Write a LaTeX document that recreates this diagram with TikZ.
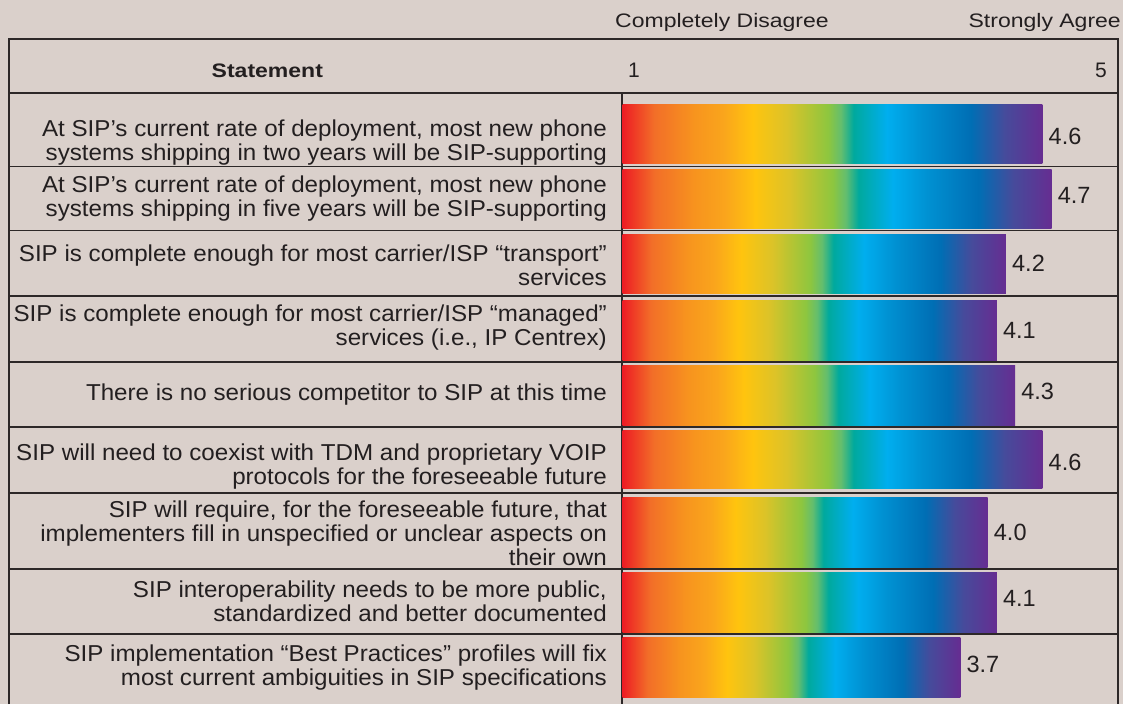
\documentclass[tikz,border=0pt]{standalone}
\usepackage{fontspec}
\setmainfont{Liberation Sans}
\newfontfamily\stmtfont[FakeStretch=1.05]{Liberation Sans}
\newfontfamily\headfont[FakeStretch=1.18]{Liberation Sans}
\usetikzlibrary{calc}

\definecolor{paper}{RGB}{218,208,203}
\definecolor{ink}{RGB}{35,31,32}
\definecolor{rulec}{RGB}{45,40,40}

% rainbow fill of the score bars (25bp..75bp is stretched over each bar)
\pgfdeclarehorizontalshading{rainbow}{100bp}{%
  rgb(0bp)=(0.929,0.110,0.141);
  rgb(25bp)=(0.929,0.110,0.141);
  rgb(28.75bp)=(0.949,0.431,0.157);
  rgb(33.5bp)=(0.969,0.580,0.118);
  rgb(37bp)=(0.980,0.647,0.110);
  rgb(40.5bp)=(1,0.769,0.055);
  rgb(44.5bp)=(0.863,0.765,0.157);
  rgb(49.5bp)=(0.553,0.776,0.247);
  rgb(51bp)=(0.392,0.745,0.431);
  rgb(52.5bp)=(0,0.663,0.616);
  rgb(56.5bp)=(0,0.682,0.937);
  rgb(60.5bp)=(0,0.569,0.824);
  rgb(66.5bp)=(0,0.431,0.706);
  rgb(70.5bp)=(0.275,0.294,0.608);
  rgb(75bp)=(0.4,0.176,0.569);
  rgb(100bp)=(0.4,0.176,0.569)}

\tikzset{
  gridline/.style={draw=rulec, line width=1.3pt, line join=miter},
  scorebar/.style={shading=rainbow, draw=none, inner sep=0pt, outer sep=0pt,
                   anchor=north west},
  stmt/.style={text=ink, inner sep=0pt, anchor=base east,
               font=\stmtfont\fontsize{23}{24}\selectfont},
  val/.style={text=ink, inner sep=0pt, anchor=base west,
              font=\fontsize{23.5}{26}\selectfont},
  headtxt/.style={text=ink, inner sep=0pt,
                  font=\headfont\fontsize{19.5}{22}\selectfont},
  scalenum/.style={text=ink, inner sep=0pt,
                   font=\fontsize{21}{24}\selectfont},
}

\renewcommand{\arraystretch}{1}
% #1 index, #2 score, #3 bar top, #4 bar bottom, #5 score baseline,
% #6 first text baseline, #7 statement
\newcommand{\statrow}[7]{%
  \node[scorebar, minimum width={91.3*#2}, minimum height={#4-#3}]
    (b#1) at (622.5,#3) {};
  \node[val] (v#1) at ($(b#1.east |- 0,#5)+(6,0)$) {#2};
  \node[stmt] (s#1) at (607,#6)
    {\begin{tabular}[t]{@{}r@{}}#7\end{tabular}};
}

\begin{document}
\begin{tikzpicture}[x=1pt,y=-1pt]
\fill[paper] (0,0) rectangle (1123,704);
\useasboundingbox (0,0) rectangle (1123,704);

% table frame, header rule, column divider, row rules
\draw[gridline] (9,704) -- (9,39) -- (1118,39) -- (1118,704);
\draw[gridline] (9,93) -- (1118,93);
\draw[gridline] (622,93) -- (622,704);
\foreach \y in {166.5,230.5,296,362,427,493,569,634}
  \draw[gridline] (9,\y) -- (1118,\y);

% scale captions and header
\node[headtxt, anchor=base west] (cd) at (615,27.3) {Completely Disagree};
\node[headtxt, anchor=base east] (sa) at (1121,27.3) {Strongly Agree};
\node[headtxt, font=\headfont\bfseries\fontsize{19.5}{22}\selectfont,
      anchor=base west] (hd) at (211.5,77.3) {Statement};
\node[scalenum, anchor=base west] (lo) at (628,77) {1};
\node[scalenum, anchor=base east] (hi) at (1107,77) {5};

% statements and scores
\statrow{1}{4.6}{104}{163}{144}{136}
  {At SIP’s current rate of deployment, most new phone\\systems shipping in two years will be SIP-supporting}
\statrow{2}{4.7}{169}{228}{203}{192.7}
  {At SIP’s current rate of deployment, most new phone\\systems shipping in five years will be SIP-supporting}
\statrow{3}{4.2}{234}{293}{271.7}{261}
  {SIP is complete enough for most carrier/ISP “transport”\\services}
\statrow{4}{4.1}{300}{360}{338}{321.7}
  {SIP is complete enough for most carrier/ISP “managed”\\services (i.e., IP Centrex)}
\statrow{5}{4.3}{365}{425}{399}{400.7}
  {There is no serious competitor to SIP at this time}
\statrow{6}{4.6}{430}{488}{470}{460.5}
  {SIP will need to coexist with TDM and proprietary VOIP\\protocols for the foreseeable future}
\statrow{7}{4.0}{497}{567}{540.7}{517}
  {SIP will require, for the foreseeable future, that\\implementers fill in unspecified or unclear aspects on\\their own}
\statrow{8}{4.1}{572}{632}{606.7}{597}
  {SIP interoperability needs to be more public,\\standardized and better documented}
\statrow{9}{3.7}{637}{697}{672}{661}
  {SIP implementation “Best Practices” profiles will fix\\most current ambiguities in SIP specifications}
\end{tikzpicture}
\end{document}
